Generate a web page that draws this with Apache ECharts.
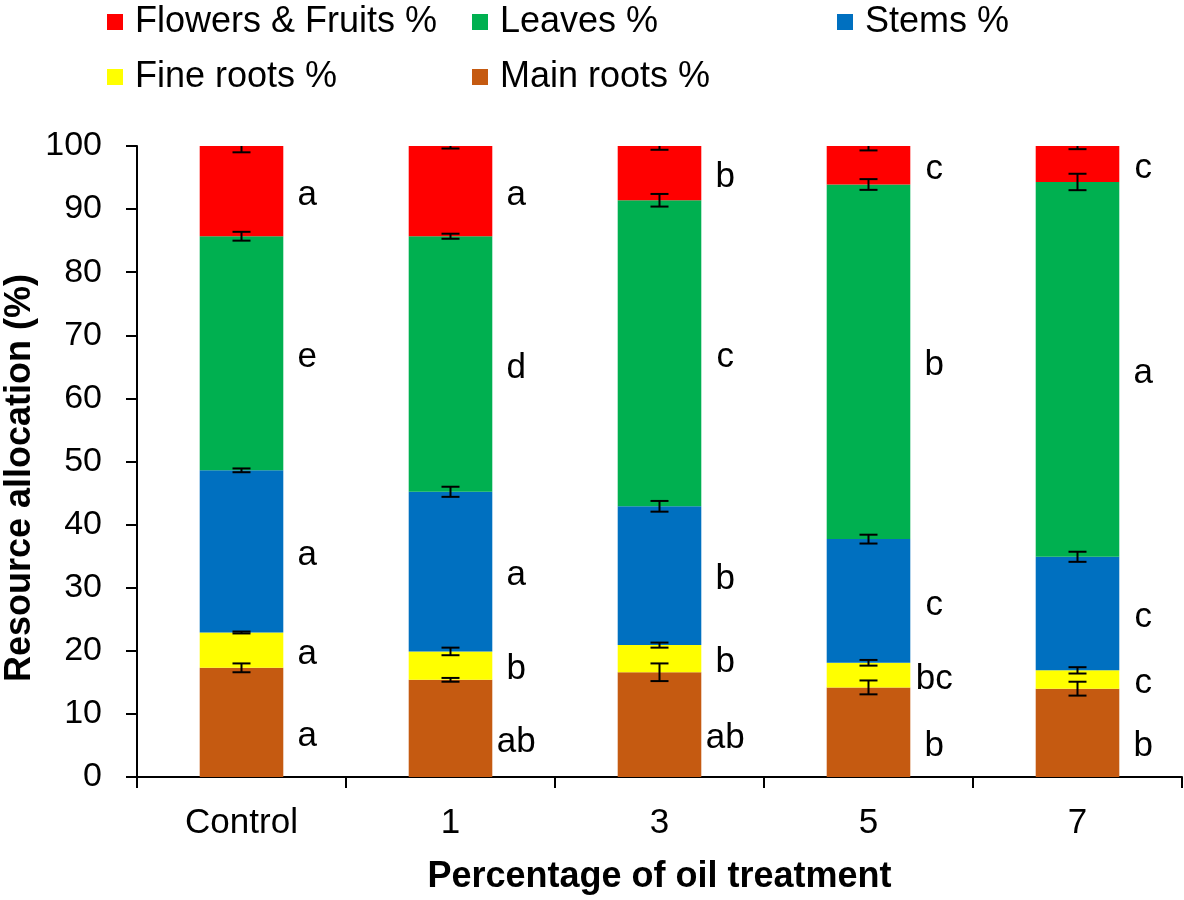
<!DOCTYPE html>
<html>
<head>
<meta charset="utf-8">
<script src="https://cdn.jsdelivr.net/npm/echarts@6/dist/echarts.min.js"></script>
<style>html,body{margin:0;padding:0;background:#fff}#c{width:1184px;height:900px}</style>
</head>
<body>
<div id="c"></div>
<script>
const categories = ['Control', '1', '3', '5', '7'];
const seriesNames = ['Main roots %', 'Fine roots %', 'Stems %', 'Leaves %', 'Flowers & Fruits %'];
const mainRoots = [17.3, 15.4, 16.6, 14.2, 14.0];
const fineRoots = [5.6, 4.5, 4.3, 3.9, 2.9];
const stems = [25.7, 25.3, 22.0, 19.6, 18.0];
const leaves = [37.1, 40.5, 48.5, 56.2, 59.4];
const flowers = [14.3, 14.3, 8.6, 6.1, 5.7];
const errMain = [0.7, 0.3, 1.4, 1.1, 1.1];
const errFine = [0.15, 0.6, 0.4, 0.45, 0.5];
const errStems = [0.3, 0.8, 0.85, 0.7, 0.8];
const errLeaves = [0.7, 0.4, 1.0, 0.85, 1.3];
const errFlowers = [1.0, 0.4, 0.6, 0.7, 0.5];
const lettersMain = ['a', 'ab', 'ab', 'b', 'b'];
const lettersFine = ['a', 'b', 'b', 'bc', 'c'];
const lettersStems = ['a', 'a', 'b', 'c', 'c'];
const lettersLeaves = ['e', 'd', 'c', 'b', 'a'];
const lettersFlowers = ['a', 'a', 'b', 'c', 'c'];
const yTicks = {min: 0, max: 100, interval: 10};

const FONT = '"Liberation Sans", Arial, Helvetica, sans-serif';
const colors = ['#C55A11', '#FFFF00', '#0070C0', '#00B050', '#FF0000'];
const values = [mainRoots, fineRoots, stems, leaves, flowers];
const errs = [errMain, errFine, errStems, errLeaves, errFlowers];
const letters = [lettersMain, lettersFine, lettersStems, lettersLeaves, lettersFlowers];

const chart = echarts.init(document.getElementById('c'), null, {renderer: 'canvas'});

const barSeries = values.map((vals, s) => ({
  name: seriesNames[s],
  type: 'bar',
  stack: 'total',
  barWidth: '40%',
  data: vals,
  itemStyle: {color: colors[s]},
  label: {
    show: true,
    position: 'right',
    distance: 24,
    align: 'center',
    verticalAlign: 'middle',
    offset: s === 0 ? [0, 14] : [0, 4],
    formatter: p => letters[s][p.dataIndex],
    fontSize: 35,
    fontFamily: FONT,
    color: '#000'
  },
  emphasis: {disabled: true},
  animation: false
}));

// error bar data: [categoryIndex, segmentTop, err]
const errData = [];
for (let i = 0; i < categories.length; i++) {
  let cum = 0;
  for (let s = 0; s < values.length; s++) {
    cum += values[s][i];
    errData.push([i, cum, errs[s][i]]);
  }
}

const errSeries = {
  type: 'custom',
  clip: true,
  z: 10,
  animation: false,
  data: errData,
  renderItem: (params, api) => {
    const x = api.value(0), top = api.value(1), e = api.value(2);
    const hi = api.coord([x, top + e]);
    const lo = api.coord([x, top - e]);
    const hw = 9;
    const st = {stroke: '#000', lineWidth: 2};
    return {
      type: 'group',
      children: [
        {type: 'line', shape: {x1: hi[0], y1: hi[1], x2: lo[0], y2: lo[1]}, style: st},
        {type: 'line', shape: {x1: hi[0] - hw, y1: hi[1], x2: hi[0] + hw, y2: hi[1]}, style: st},
        {type: 'line', shape: {x1: lo[0] - hw, y1: lo[1], x2: lo[0] + hw, y2: lo[1]}, style: st}
      ]
    };
  }
};

function legendAt(name, left, top) {
  return {
    data: [name],
    left: left,
    top: top,
    padding: 0,
    icon: 'rect',
    itemWidth: 16,
    itemHeight: 16,
    selectedMode: false,
    textStyle: {fontSize: 36, fontFamily: FONT, color: '#000', padding: [0, 0, 0, 7]}
  };
}

chart.setOption({
  backgroundColor: '#fff',
  animation: false,
  legend: [
    legendAt('Flowers & Fruits %', 107, 4),
    legendAt('Leaves %', 472, 4),
    legendAt('Stems %', 837, 4),
    legendAt('Fine roots %', 107, 59),
    legendAt('Main roots %', 472, 59)
  ],
  grid: {left: 137, right: 2, top: 146, bottom: 117, containLabel: false},
  xAxis: {
    type: 'category',
    data: categories,
    name: 'Percentage of oil treatment',
    nameLocation: 'middle',
    nameGap: 82,
    nameTextStyle: {fontSize: 36, fontWeight: 'bold', fontFamily: FONT, color: '#000'},
    axisLine: {show: true, lineStyle: {color: '#000', width: 2}},
    axisTick: {show: true, length: 11, lineStyle: {color: '#000', width: 2}},
    axisLabel: {fontSize: 35, fontFamily: FONT, color: '#000', margin: 29}
  },
  yAxis: {
    type: 'value',
    min: yTicks.min,
    max: yTicks.max,
    interval: yTicks.interval,
    axisLine: {show: true, lineStyle: {color: '#000', width: 2}},
    axisTick: {show: true, length: 11, lineStyle: {color: '#000', width: 2}},
    axisLabel: {fontSize: 34, fontFamily: FONT, color: '#000', margin: 35},
    splitLine: {show: false}
  },
  graphic: [{
    type: 'text',
    x: 20,
    y: 478,
    rotation: Math.PI / 2,
    style: {
      text: 'Resource allocation (%)',
      fill: '#000',
      font: 'bold 36px ' + FONT,
      textAlign: 'center',
      textVerticalAlign: 'middle'
    }
  }],
  series: [...barSeries, errSeries]
});
</script>
</body>
</html>
